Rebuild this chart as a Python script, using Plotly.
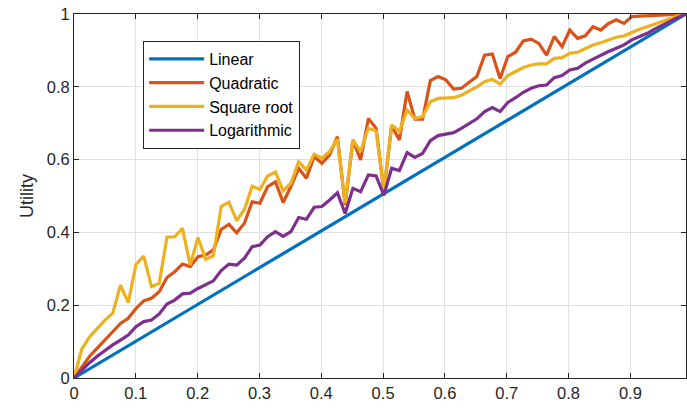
import plotly.graph_objects as go

x = [round(i * 0.99 / 79, 5) for i in range(80)]

linear = [round(i / 79, 4) for i in range(80)]

quadratic = [0, 0.031, 0.059, 0.082, 0.106, 0.127, 0.150, 0.164, 0.191, 0.212,
             0.219, 0.237, 0.276, 0.292, 0.313, 0.306, 0.333, 0.338, 0.352, 0.408,
             0.422, 0.399, 0.425, 0.484, 0.480, 0.526, 0.539, 0.482, 0.526, 0.576,
             0.549, 0.608, 0.590, 0.613, 0.663, 0.475, 0.654, 0.599, 0.713, 0.686,
             0.512, 0.693, 0.654, 0.787, 0.711, 0.711, 0.817, 0.828, 0.819, 0.794,
             0.796, 0.811, 0.828, 0.887, 0.890, 0.823, 0.883, 0.895, 0.926, 0.931,
             0.919, 0.887, 0.938, 0.910, 0.956, 0.933, 0.940, 0.965, 0.956, 0.974,
             0.984, 0.974, 0.993, 0.994, 0.995, 0.995, 0.996, 0.997, 0.998, 1.0]

square_root = [0, 0.079, 0.113, 0.136, 0.159, 0.178, 0.255, 0.207, 0.312, 0.335,
               0.251, 0.260, 0.387, 0.388, 0.411, 0.310, 0.386, 0.326, 0.336, 0.471,
               0.483, 0.432, 0.463, 0.527, 0.518, 0.555, 0.566, 0.514, 0.535, 0.594,
               0.571, 0.615, 0.604, 0.622, 0.656, 0.480, 0.654, 0.622, 0.686, 0.679,
               0.516, 0.695, 0.677, 0.736, 0.713, 0.718, 0.759, 0.768, 0.768, 0.770,
               0.777, 0.788, 0.800, 0.814, 0.821, 0.807, 0.831, 0.842, 0.853, 0.860,
               0.863, 0.863, 0.878, 0.880, 0.892, 0.895, 0.904, 0.915, 0.921, 0.929,
               0.936, 0.940, 0.950, 0.958, 0.965, 0.973, 0.981, 0.988, 0.995, 1.0]

logarithmic = [0, 0.022, 0.042, 0.060, 0.076, 0.091, 0.104, 0.118, 0.141, 0.155,
               0.159, 0.176, 0.203, 0.214, 0.231, 0.233, 0.246, 0.256, 0.267, 0.295,
               0.313, 0.310, 0.329, 0.361, 0.365, 0.388, 0.402, 0.389, 0.402, 0.441,
               0.436, 0.469, 0.471, 0.489, 0.509, 0.452, 0.521, 0.512, 0.558, 0.555,
               0.502, 0.576, 0.570, 0.619, 0.606, 0.617, 0.652, 0.666, 0.670, 0.674,
               0.686, 0.700, 0.712, 0.732, 0.743, 0.732, 0.757, 0.770, 0.785, 0.796,
               0.803, 0.805, 0.825, 0.831, 0.846, 0.851, 0.865, 0.876, 0.887, 0.897,
               0.906, 0.915, 0.929, 0.938, 0.947, 0.959, 0.970, 0.981, 0.991, 1.0]

names = ["Linear", "Quadratic", "Square root", "Logarithmic"]
colors = ["#0072BD", "#D95319", "#EDB120", "#7E2F8E"]
series = [linear, quadratic, square_root, logarithmic]

x_ticks = [0, 0.1, 0.2, 0.3, 0.4, 0.5, 0.6, 0.7, 0.8, 0.9]
x_tick_labels = ["0", "0.1", "0.2", "0.3", "0.4", "0.5", "0.6", "0.7", "0.8", "0.9"]
y_ticks = [0, 0.2, 0.4, 0.6, 0.8, 1]
y_tick_labels = ["0", "0.2", "0.4", "0.6", "0.8", "1"]

fig = go.Figure()
for name, col, ys in zip(names, colors, series):
    fig.add_trace(go.Scatter(x=x, y=ys, mode="lines", name=name,
                             line=dict(color=col, width=3.2)))

axis_common = dict(
    showline=True, linecolor="#262626", linewidth=1, mirror="ticks",
    ticks="inside", ticklen=5, tickcolor="#262626", tickwidth=1,
    showgrid=True, gridcolor="#e0e0e0", gridwidth=1, zeroline=False,
    tickfont=dict(family="Liberation Sans, Arial, sans-serif", size=16.5, color="#262626"),
)

fig.update_layout(
    width=687, height=411,
    margin=dict(l=74, r=1, t=14, b=33),
    paper_bgcolor="white", plot_bgcolor="white",
    font=dict(family="Liberation Sans, Arial, sans-serif", size=16, color="#262626"),
    xaxis=dict(range=[0, 0.99], tickvals=x_ticks, ticktext=x_tick_labels, **axis_common),
    yaxis=dict(range=[0, 1], tickvals=y_ticks, ticktext=y_tick_labels,
               title=dict(text="Utility", font=dict(size=18, color="#262626"), standoff=8),
               **axis_common),
    legend=dict(x=0.113, y=0.926, xanchor="left", yanchor="top",
                bgcolor="white", bordercolor="#262626", borderwidth=1,
                font=dict(size=16, color="#000000"), itemwidth=55,
                tracegroupgap=0),
    showlegend=True,
)

fig.write_html("out.html")
